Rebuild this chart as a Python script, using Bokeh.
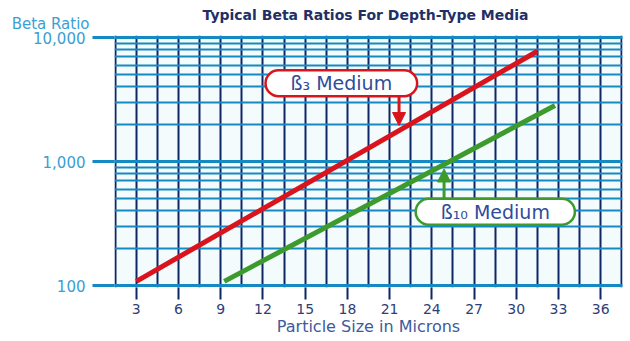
from bokeh.plotting import figure
from bokeh.models import (Range1d, FixedTicker, LogTicker, NumeralTickFormatter,
                          Label, Arrow, NormalHead)
from bokeh.embed import file_html
from bokeh.resources import INLINE

# ---- data ----
size_b3 = [3.0, 31.5]
beta_b3 = [108, 7750]
size_b10 = [9.25, 32.75]
beta_b10 = [108, 2830]
x_ticks = [3, 6, 9, 12, 15, 18, 21, 24, 27, 30, 33, 36]
x_grid = [1.5 + 1.5 * i for i in range(25)]
title_text = "Typical Beta Ratios For Depth-Type Media"
y_title = "Beta Ratio"
x_title = "Particle Size in Microns"
label_b3 = "ß₃ Medium"
label_b10 = "ß₁₀ Medium"

# ---- styles ----
RED = "#d9141c"
GREEN = "#3c9b2c"
HBLUE = "#1589c2"
NAVY = "#0c2668"
BG = "#f4fbfd"
TXT = "#2f4d9a"
FONT = "DejaVu Sans"

p = figure(width=630, height=341, output_backend="svg", toolbar_location=None,
           y_axis_type="log",
           x_range=Range1d(1.45, 37.55),
           y_range=Range1d(10 ** (2 - 2 / 124), 10 ** (4 + 2 / 124)),
           min_border_left=114, min_border_right=8, min_border_top=35,
           min_border_bottom=54)
p.background_fill_color = BG
p.border_fill_color = "white"
p.outline_line_color = None

# texts above the frame, placed in the top panel
p.add_layout(Label(x=-25, y=12, x_units="screen", y_units="screen",
                   text=y_title, text_align="right", text_baseline="middle",
                   text_font=FONT, text_font_size="15px", text_color="#3aa0d3"),
             "above")
p.add_layout(Label(x=251, y=3, x_units="screen", y_units="screen",
                   text=title_text, text_align="center", text_baseline="middle",
                   text_font=FONT, text_font_size="14px", text_font_style="bold",
                   text_color="#1f3068"),
             "above")

# grids
p.xgrid.ticker = FixedTicker(ticks=x_grid)
p.xgrid.grid_line_color = NAVY
p.xgrid.grid_line_width = 2
p.ygrid.grid_line_color = HBLUE
p.ygrid.grid_line_width = 3
p.ygrid.minor_grid_line_color = HBLUE
p.ygrid.minor_grid_line_width = 2

# x axis
xa = p.xaxis[0]
xa.ticker = FixedTicker(ticks=x_ticks)
xa.axis_line_color = None
xa.major_tick_in = 0
xa.major_tick_out = 12
xa.major_tick_line_color = NAVY
xa.major_tick_line_width = 2
xa.minor_tick_line_color = None
xa.major_label_text_font = FONT
xa.major_label_text_font_size = "14px"
xa.major_label_text_color = "#2d3e78"
xa.major_label_standoff = 4
xa.axis_label = x_title
xa.axis_label_text_font = FONT
xa.axis_label_text_font_size = "16px"
xa.axis_label_text_font_style = "normal"
xa.axis_label_text_color = "#3d5a9c"
xa.axis_label_standoff = 0

# y axis
ya = p.yaxis[0]
ya.ticker = LogTicker(num_minor_ticks=10)
ya.formatter = NumeralTickFormatter(format="0,0")
ya.axis_line_color = None
ya.major_tick_in = 0
ya.major_tick_out = 22
ya.major_tick_line_color = HBLUE
ya.major_tick_line_width = 3
ya.minor_tick_line_color = None
ya.major_label_text_font = FONT
ya.major_label_text_font_size = "15px"
ya.major_label_text_color = "#3aa0d3"
ya.major_label_standoff = 7

# lines
p.line(size_b3, beta_b3, line_color=RED, line_width=5)
p.line(size_b10, beta_b10, line_color=GREEN, line_width=5)

# arrows
p.add_layout(Arrow(end=NormalHead(size=13, fill_color=RED, line_color=RED, line_width=1),
                   x_start=21.67, y_start=3365, x_end=21.67, y_end=1950,
                   line_color=RED, line_width=3))
p.add_layout(Arrow(end=NormalHead(size=13, fill_color=GREEN, line_color=GREEN, line_width=1),
                   x_start=24.87, y_start=501, x_end=24.87, y_end=870,
                   line_color=GREEN, line_width=3))

# callout boxes
p.add_layout(Label(x=17.57, y=4276, text=label_b3, text_align="center",
                   text_baseline="middle", text_font=FONT, text_font_size="19px",
                   text_color=TXT, background_fill_color="white",
                   border_line_color=RED, border_line_width=2.5,
                   border_radius=13, padding=(25, 2)))
p.add_layout(Label(x=28.51, y=393, text=label_b10, text_align="center",
                   text_baseline="middle", text_font=FONT, text_font_size="19px",
                   text_color=TXT, background_fill_color="white",
                   border_line_color=GREEN, border_line_width=2.5,
                   border_radius=13, padding=(25, 2)))

open("out.html", "w").write(file_html(p, INLINE))
